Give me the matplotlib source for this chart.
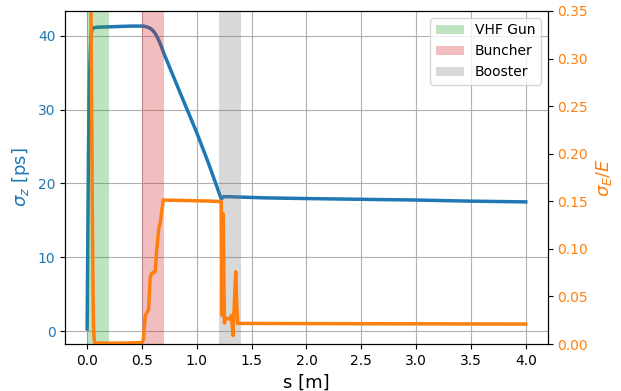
import numpy as np
import matplotlib
matplotlib.use("Agg")
import matplotlib.pyplot as plt

# bunch length along the beamline
s_z = [0.0, 0.004, 0.008, 0.012, 0.018, 0.025, 0.032, 0.04, 0.05, 0.07, 0.1, 0.2, 0.3, 0.4, 0.5,
       0.53, 0.57, 0.6, 0.625, 0.65, 0.675, 0.70, 0.85, 0.996, 1.1, 1.223, 1.245, 1.3, 1.4,
       1.6, 2.0, 2.5, 3.0, 3.5, 4.0]
sigma_z = [0.3, 8.0, 16.0, 24.0, 31.0, 36.0, 39.0, 40.6, 41.0, 41.1, 41.15, 41.2, 41.25, 41.3, 41.3,
           41.25, 41.05, 40.7, 40.2, 39.5, 38.6, 37.6, 32.2, 27.0, 23.0, 17.9, 18.2, 18.2, 18.15,
           18.05, 17.95, 17.85, 17.75, 17.6, 17.5]

# relative energy spread
s_e = [0.0, 0.02, 0.03, 0.036, 0.042, 0.047, 0.052, 0.056, 0.06, 0.065, 0.07, 0.1, 0.3, 0.5,
       0.513, 0.53, 0.549, 0.56, 0.575, 0.589, 0.62, 0.635, 0.655, 0.665, 0.694, 0.9, 1.1, 1.223,
       1.232, 1.24, 1.252, 1.26, 1.28, 1.30, 1.315, 1.33, 1.345, 1.355, 1.365, 1.373, 1.5, 2.0,
       3.0, 4.0]
sigma_e = [1.5, 0.7, 0.42, 0.33, 0.24, 0.15, 0.08, 0.035, 0.012, 0.004, 0.0015, 0.001, 0.001, 0.0015,
           0.005, 0.03, 0.034, 0.036, 0.07, 0.0743, 0.076, 0.1, 0.123, 0.126, 0.1513, 0.1508, 0.1503, 0.1497,
           0.03, 0.137, 0.022, 0.027, 0.027, 0.026, 0.03, 0.009, 0.05, 0.076, 0.04, 0.0217, 0.0217, 0.0215,
           0.0213, 0.021]

# cavity regions
region_names = ["VHF Gun", "Buncher", "Booster"]
region_start = [0.0, 0.5, 1.2]
region_end = [0.2, 0.7, 1.4]
region_colors = ["tab:green", "tab:red", "tab:gray"]

fig, ax1 = plt.subplots(figsize=(6.21, 3.91), dpi=100)

ax1.plot(s_z, sigma_z, color="tab:blue", lw=2.5)
ax1.set_xlabel("s [m]", fontsize=13)
ax1.set_ylabel(r"$\sigma_z$ [ps]", color="tab:blue", fontsize=13)
ax1.tick_params(axis="y", labelcolor="tab:blue", labelsize=10)
ax1.tick_params(axis="x", labelsize=10)
ax1.grid(True)

ax2 = ax1.twinx()
for name, a, b, c in zip(region_names, region_start, region_end, region_colors):
    ax2.axvspan(a, b, color=c, alpha=0.3, lw=0, label=name)
ax2.plot(s_e, sigma_e, color="tab:orange", lw=2.5)
ax2.set_ylim(0, 0.35)
ax2.set_ylabel(r"$\sigma_E/E$", color="tab:orange", fontsize=13)
ax2.tick_params(axis="y", labelcolor="tab:orange", labelsize=10)
ax2.legend(loc="upper right", fontsize=10)

fig.subplots_adjust(left=0.105, right=0.882, top=0.972, bottom=0.12)
fig.savefig("out.png")
